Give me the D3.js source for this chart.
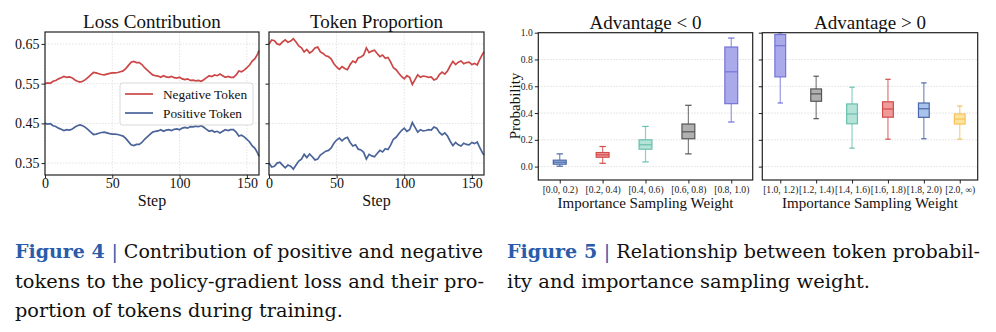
<!DOCTYPE html>
<html>
<head>
<meta charset="utf-8">
<script src="https://cdn.jsdelivr.net/npm/d3@7"></script>
<style>
  body { margin: 0; background: #fff; }
  svg { display: block; }
</style>
</head>
<body>
<svg id="fig" width="996" height="332"></svg>
<script>
// ---- data: figure 4 ----
const steps = [0,2,4,6,8,10,12,14,16,18,20,22,24,26,28,30,32,34,36,38,40,42,44,46,48,50,52,54,56,58,
  60,62,64,66,68,70,72,74,76,78,80,82,84,86,88,90,92,94,96,98,100,102,104,106,108,110,112,114,116,118,
  120,122,124,126,128,130,132,134,136,138,140,142,144,146,148,150,152,154,156,158,159];

const lossNeg = [0.550,0.552,0.551,0.556,0.558,0.562,0.565,0.568,0.566,0.567,0.565,0.560,0.556,0.554,0.556,
  0.560,0.566,0.572,0.578,0.577,0.575,0.573,0.572,0.574,0.576,0.577,0.577,0.578,0.580,0.582,
  0.588,0.596,0.604,0.606,0.603,0.603,0.598,0.590,0.584,0.578,0.572,0.570,0.569,0.566,0.570,
  0.567,0.566,0.568,0.565,0.564,0.566,0.562,0.560,0.562,0.558,0.559,0.557,0.558,0.556,0.560,
  0.565,0.570,0.568,0.572,0.570,0.574,0.570,0.566,0.568,0.566,0.566,0.572,0.582,0.580,0.584,
  0.590,0.597,0.607,0.613,0.625,0.633];
const lossPos = [0.450,0.448,0.449,0.444,0.442,0.438,0.435,0.432,0.434,0.433,0.435,0.440,0.444,0.446,0.444,
  0.440,0.434,0.428,0.422,0.423,0.425,0.427,0.428,0.426,0.424,0.423,0.423,0.422,0.420,0.418,
  0.412,0.404,0.396,0.394,0.397,0.397,0.402,0.410,0.416,0.422,0.428,0.430,0.431,0.434,0.430,
  0.433,0.434,0.432,0.435,0.436,0.434,0.438,0.440,0.438,0.442,0.441,0.443,0.442,0.444,0.440,
  0.435,0.430,0.432,0.428,0.430,0.426,0.430,0.434,0.432,0.434,0.434,0.428,0.418,0.420,0.416,
  0.410,0.403,0.393,0.387,0.375,0.367];
const propNeg = [0.650,0.660,0.658,0.650,0.648,0.655,0.660,0.654,0.657,0.663,0.655,0.645,0.640,0.630,0.636,
  0.627,0.632,0.640,0.642,0.630,0.626,0.620,0.618,0.612,0.600,0.592,0.586,0.593,0.588,0.585,
  0.598,0.607,0.603,0.615,0.617,0.622,0.640,0.628,0.632,0.634,0.626,0.618,0.622,0.614,0.616,
  0.604,0.590,0.585,0.576,0.568,0.562,0.570,0.566,0.548,0.560,0.572,0.566,0.569,0.568,0.566,
  0.567,0.559,0.562,0.573,0.579,0.574,0.582,0.595,0.606,0.598,0.604,0.607,0.600,0.603,0.604,
  0.598,0.601,0.597,0.612,0.625,0.630];
const propPos = [0.350,0.340,0.342,0.350,0.352,0.345,0.338,0.345,0.342,0.335,0.345,0.355,0.360,0.372,0.364,
  0.373,0.366,0.358,0.360,0.370,0.375,0.380,0.382,0.388,0.400,0.408,0.413,0.406,0.412,0.415,
  0.402,0.393,0.396,0.385,0.383,0.377,0.360,0.372,0.368,0.366,0.374,0.382,0.378,0.386,0.384,
  0.396,0.410,0.415,0.424,0.432,0.438,0.430,0.434,0.452,0.440,0.428,0.434,0.431,0.432,0.434,
  0.433,0.441,0.438,0.427,0.421,0.426,0.418,0.405,0.394,0.402,0.396,0.393,0.400,0.397,0.396,
  0.402,0.399,0.403,0.388,0.375,0.370];

const lineTicksY = [0.35, 0.45, 0.55, 0.65];
const lineTicksX = [0, 50, 100, 150];

// ---- data: figure 5 ----
const negLabels = ["[0.0, 0.2)", "[0.2, 0.4)", "[0.4, 0.6)", "[0.6, 0.8)", "[0.8, 1.0)"];
const negLow  = [0.003, 0.025, 0.035, 0.095, 0.333];
const negQ1   = [0.018, 0.070, 0.130, 0.208, 0.470];
const negMed  = [0.033, 0.088, 0.163, 0.260, 0.708];
const negQ3   = [0.048, 0.105, 0.200, 0.318, 0.893];
const negHigh = [0.095, 0.150, 0.300, 0.458, 0.960];
const negColors = ["blue", "red", "teal", "gray", "purple"];

const posLabels = ["[1.0, 1.2)", "[1.2, 1.4)", "[1.4, 1.6)", "[1.6, 1.8)", "[1.8, 2.0)", "[2.0, \u221e)"];
const posLow  = [0.475, 0.358, 0.138, 0.205, 0.208, 0.205];
const posQ1   = [0.670, 0.488, 0.320, 0.369, 0.368, 0.318];
const posMed  = [0.903, 0.543, 0.393, 0.430, 0.432, 0.355];
const posQ3   = [0.986, 0.580, 0.468, 0.484, 0.475, 0.393];
const posHigh = [1.000, 0.675, 0.593, 0.652, 0.625, 0.452];
const posColors = ["purple", "gray", "teal", "red", "blue", "yellow"];

const probTicks = [0.0, 0.2, 0.4, 0.6, 0.8, 1.0];

const palette = {
  blue:   { edge: "#4a67a6", fill: "#a9c4ec" },
  red:    { edge: "#d24b4b", fill: "#f09a9a" },
  teal:   { edge: "#6bbfae", fill: "#b4e3d8" },
  gray:   { edge: "#555555", fill: "#b0b0b0" },
  purple: { edge: "#7474d8", fill: "#aaaaea" },
  yellow: { edge: "#f7c25a", fill: "#fde49e" }
};

const redLine = "#cc4646";
const blueLine = "#4a6399";
const SERIF = "Liberation Serif";

const svg = d3.select("#fig");

// ---------- Figure 4 ----------
const yLine = d3.scaleLinear().domain([0.32, 0.68]).range([175, 32]);

function linePanel(x0, x1, title, neg, pos, showYLabels) {
  const x = d3.scaleLinear().domain([0, 159]).range([x0, x1]);
  const g = svg.append("g").attr("font-family", SERIF);

  // grid
  g.selectAll(".gx").data(lineTicksX).enter().append("line")
    .attr("x1", d => x(d)).attr("x2", d => x(d))
    .attr("y1", 32).attr("y2", 175)
    .attr("stroke", "#dcdcdc").attr("stroke-width", 0.8).attr("stroke-dasharray", "1.5,1.5");
  g.selectAll(".gy").data(lineTicksY).enter().append("line")
    .attr("x1", x0).attr("x2", x1)
    .attr("y1", d => yLine(d)).attr("y2", d => yLine(d))
    .attr("stroke", "#dcdcdc").attr("stroke-width", 0.8).attr("stroke-dasharray", "1.5,1.5");

  const line = d3.line().x((d, i) => x(steps[i])).y(d => yLine(d));
  g.append("path").datum(neg).attr("d", line)
    .attr("fill", "none").attr("stroke", redLine).attr("stroke-width", 1.7);
  g.append("path").datum(pos).attr("d", line)
    .attr("fill", "none").attr("stroke", blueLine).attr("stroke-width", 1.7);

  // axes
  const ax = g.append("g").attr("transform", "translate(0,175)")
    .call(d3.axisBottom(x).tickValues(lineTicksX).tickSize(3.5).tickPadding(1.5).tickFormat(d3.format("d")));
  const ay = g.append("g").attr("transform", `translate(${x0},0)`)
    .call(d3.axisLeft(yLine).tickValues(lineTicksY).tickSize(3.5).tickPadding(2)
      .tickFormat(showYLabels ? d3.format(".2f") : ""));
  [ax, ay].forEach(a => {
    a.attr("font-family", SERIF).attr("font-size", 14);
    a.select(".domain").remove();
    a.selectAll("line").attr("stroke", "#222");
    a.selectAll("text").attr("fill", "#111");
  });
  ax.selectAll("text").attr("dy", "0.57em");

  g.append("rect").attr("x", x0).attr("y", 32).attr("width", x1 - x0).attr("height", 143)
    .attr("fill", "none").attr("stroke", "#222").attr("stroke-width", 1.2);

  g.append("text").attr("x", (x0 + x1) / 2).attr("y", 28)
    .attr("text-anchor", "middle").attr("font-size", 19).attr("fill", "#111").text(title);
  g.append("text").attr("x", (x0 + x1) / 2).attr("y", 206)
    .attr("text-anchor", "middle").attr("font-size", 16).attr("fill", "#111").text("Step");
  return g;
}

const p1 = linePanel(45, 259, "Loss Contribution", lossNeg, lossPos, true);
linePanel(269, 484, "Token Proportion", propNeg, propPos, false);

// legend
const lg = p1.append("g");
lg.append("rect").attr("x", 120).attr("y", 83).attr("width", 133).attr("height", 42).attr("rx", 2.5)
  .attr("fill", "#fff").attr("fill-opacity", 0.9).attr("stroke", "#cfcfcf").attr("stroke-width", 0.8);
[["Negative Token", redLine, 94], ["Positive Token", blueLine, 113]].forEach(([t, c, y]) => {
  lg.append("line").attr("x1", 125).attr("x2", 153).attr("y1", y).attr("y2", y)
    .attr("stroke", c).attr("stroke-width", 1.7);
  lg.append("text").attr("x", 163).attr("y", y + 4.5)
    .attr("font-size", 13.3).attr("fill", "#111").text(t);
});

// ---------- Figure 5 ----------
const yProb = d3.scaleLinear().domain([-0.1, 1.0]).range([180, 32.7]);

function boxPanel(x0, x1, title, labels, low, q1, med, q3, high, colors, showYLabels) {
  const x = d3.scalePoint().domain(labels).range([x0, x1]).padding(0.5);
  const step = x.step();
  const bw = step * 0.3;
  const g = svg.append("g").attr("font-family", SERIF);

  g.selectAll(".gy").data(probTicks.slice(0, 5)).enter().append("line")
    .attr("x1", x0).attr("x2", x1)
    .attr("y1", d => yProb(d)).attr("y2", d => yProb(d))
    .attr("stroke", "#d8d8d8").attr("stroke-width", 0.8).attr("stroke-dasharray", "1.5,1.5");

  labels.forEach((lab, i) => {
    const c = palette[colors[i]];
    const cx = x(lab);
    const bx = g.append("g");
    // whiskers
    bx.append("line").attr("x1", cx).attr("x2", cx).attr("y1", yProb(high[i])).attr("y2", yProb(q3[i]))
      .attr("stroke", c.edge).attr("stroke-opacity", 0.75).attr("stroke-width", 1.2);
    bx.append("line").attr("x1", cx).attr("x2", cx).attr("y1", yProb(q1[i])).attr("y2", yProb(low[i]))
      .attr("stroke", c.edge).attr("stroke-opacity", 0.75).attr("stroke-width", 1.2);
    [high[i], low[i]].forEach(v => {
      bx.append("line").attr("x1", cx - bw / 4).attr("x2", cx + bw / 4)
        .attr("y1", yProb(v)).attr("y2", yProb(v))
        .attr("stroke", c.edge).attr("stroke-width", 1.2);
    });
    bx.append("rect").attr("x", cx - bw / 2).attr("width", bw)
      .attr("y", yProb(q3[i])).attr("height", yProb(q1[i]) - yProb(q3[i]))
      .attr("fill", c.fill).attr("stroke", c.edge).attr("stroke-width", 1.2);
    bx.append("line").attr("x1", cx - bw / 2).attr("x2", cx + bw / 2)
      .attr("y1", yProb(med[i])).attr("y2", yProb(med[i]))
      .attr("stroke", c.edge).attr("stroke-width", 1.2);
  });

  const ax = g.append("g").attr("transform", "translate(0,180)")
    .call(d3.axisBottom(x).tickSize(3.5).tickPadding(2.5));
  const ay = g.append("g").attr("transform", `translate(${x0},0)`)
    .call(d3.axisLeft(yProb).tickValues(probTicks).tickSize(3.5).tickPadding(2)
      .tickFormat(showYLabels ? d3.format(".1f") : ""));
  [ax, ay].forEach(a => {
    a.attr("font-family", SERIF).attr("font-size", 9.6);
    a.select(".domain").remove();
    a.selectAll("line").attr("stroke", "#222");
    a.selectAll("text").attr("fill", "#222");
  });
  ax.selectAll("text").attr("dy", "0.7em");

  g.append("rect").attr("x", x0).attr("y", 32.7).attr("width", x1 - x0).attr("height", 180 - 32.7)
    .attr("fill", "none").attr("stroke", "#222").attr("stroke-width", 1.2);

  g.append("text").attr("x", (x0 + x1) / 2).attr("y", 28.5)
    .attr("text-anchor", "middle").attr("font-size", 19).attr("fill", "#111").text(title);
  g.append("text").attr("x", (x0 + x1) / 2).attr("y", 208)
    .attr("text-anchor", "middle").attr("font-size", 15).attr("fill", "#111").text("Importance Sampling Weight");
  return g;
}

boxPanel(538.3, 752.7, "Advantage < 0", negLabels, negLow, negQ1, negMed, negQ3, negHigh, negColors, true);
boxPanel(762.3, 977.7, "Advantage > 0", posLabels, posLow, posQ1, posMed, posQ3, posHigh, posColors, false);

svg.append("text").attr("font-family", SERIF)
  .attr("transform", "translate(520,106) rotate(-90)")
  .attr("text-anchor", "middle").attr("font-size", 15).attr("fill", "#111").text("Probability");

// ---------- captions ----------
const capBlue = "#2a5cab";
const captions = [
  { x: 15, y: 258, w: 468, fig: "Figure 4", rest: "Contribution of positive and negative" },
  { x: 15, y: 288, w: 469, rest: "tokens to the policy-gradient loss and their pro-" },
  { x: 15, y: 317, w: 328, rest: "portion of tokens during training." },
  { x: 507, y: 258, w: 473, fig: "Figure 5", rest: "Relationship between token probabil-" },
  { x: 507, y: 288, w: 363, rest: "ity and importance sampling weight." }
];
captions.forEach(c => {
  const t = svg.append("text").attr("x", c.x).attr("y", c.y)
    .attr("font-family", "DejaVu Serif").attr("font-size", 19).attr("fill", "#111")
    .attr("textLength", c.w).attr("lengthAdjust", "spacingAndGlyphs");
  if (c.fig) {
    t.append("tspan").attr("fill", capBlue).attr("font-weight", "bold").text(c.fig + " ");
    t.append("tspan").attr("fill", capBlue).text("| ");
  }
  t.append("tspan").text(c.rest);
});
</script>
</body>
</html>
